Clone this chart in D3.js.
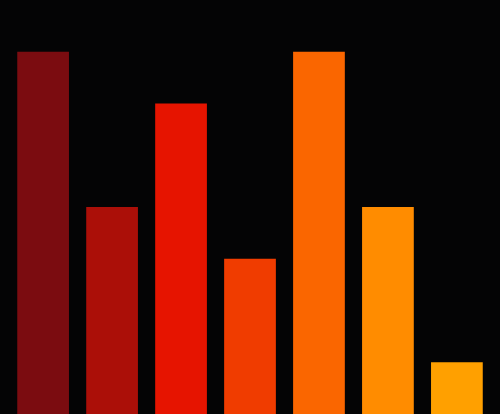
<!DOCTYPE html>
<html>
<head>
  <meta charset="utf-8">
  <script src="https://d3js.org/d3.v7.min.js"></script>
  <style>
    html, body { margin: 0; padding: 0; background: #040405; overflow: hidden; }
  </style>
</head>
<body>
  <div id="chart"></div>
  <script>
    // chart data
    var categories = ["A", "B", "C", "D", "E", "F", "G"];
    var values = [7, 4, 6, 3, 7, 4, 1];
    var colors = ["#7b0c10", "#ab0f08", "#e61400", "#f03c00", "#fa6600", "#ff8c00", "#ffa000"];

    const width = 500;
    const height = 414;

    const svg = d3.select("#chart")
      .append("svg")
      .attr("width", width)
      .attr("height", height)
      .style("display", "block");

    svg.append("rect")
      .attr("width", width)
      .attr("height", height)
      .attr("fill", "#040405");

    const x = d3.scaleBand()
      .domain(categories)
      .range([0, width])
      .padding(0.25);

    const y = d3.scaleLinear()
      .domain([0, d3.max(values) + 1])
      .range([height, 0]);

    svg.selectAll(".bar")
      .data(values)
      .enter().append("rect")
      .attr("class", "bar")
      .attr("x", (d, i) => x(categories[i]))
      .attr("y", d => y(d))
      .attr("width", x.bandwidth())
      .attr("height", d => height - y(d))
      .attr("fill", (d, i) => colors[i]);
  </script>
</body>
</html>
